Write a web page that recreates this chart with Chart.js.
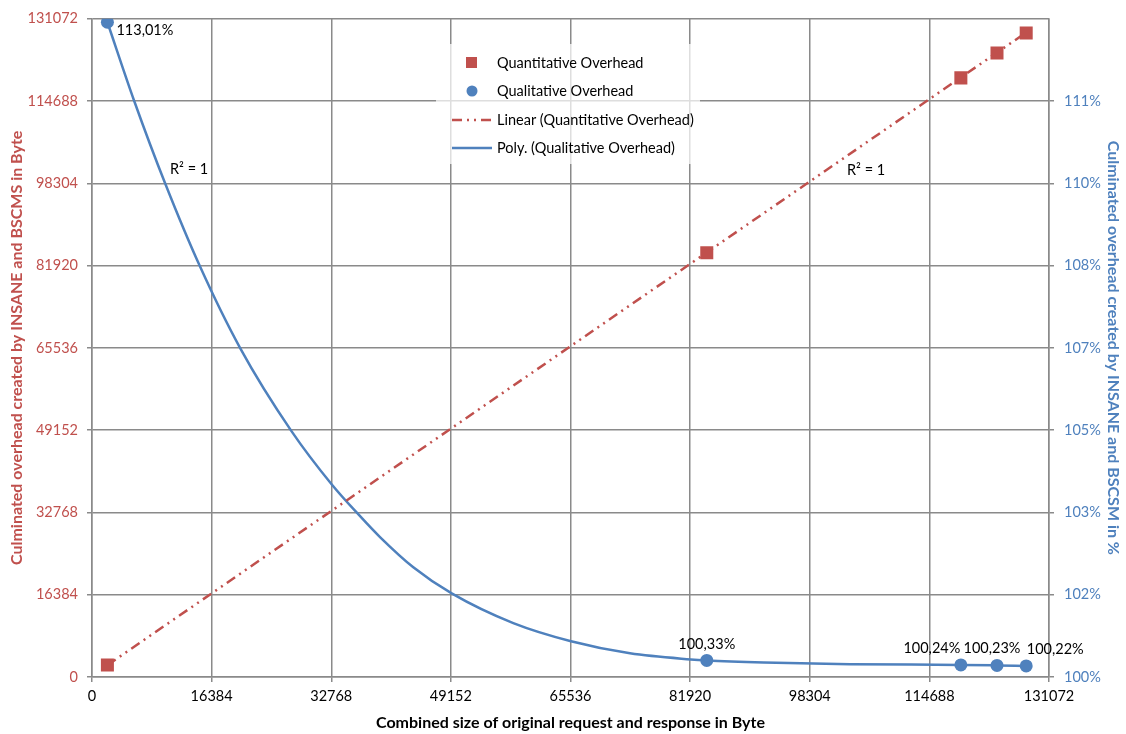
<!DOCTYPE html>
<html>
<head>
<meta charset="utf-8">
<script src="https://cdn.jsdelivr.net/npm/chart.js@4/dist/chart.umd.min.js"></script>
<style>
html,body{margin:0;padding:0;background:#fff}
#wrap{width:1126px;height:734px}
</style>
</head>
<body>
<div id="wrap"><canvas id="chart" width="1126" height="734"></canvas></div>
<script>
const sizes=[2110,84200,119000,123950,127950]
const quantBytes=[2385,84480,119290,124230,128230]
const qualPct=[113.01,100.33,100.24,100.23,100.22]

// trendlines as drawn in the reference
const linearX=[2110,127950]
const linearY=[2360,128330]
const polyX=[2110,5794,10039,14751,20311,27296,32870,36746,39444,44005,49264,57701,65604,73684,81998,84200,92000,103837,119000,123950,127950]
const polyY=[113.01,111.44,109.80,108.17,106.53,104.89,103.82,103.19,102.78,102.18,101.66,101.07,100.71,100.47,100.35,100.33,100.29,100.255,100.24,100.23,100.22]

const xTicks=[0,16384,32768,49152,65536,81920,98304,114688,131072]
const rightTicks=[100,101.635,103.27,104.905,106.54,108.175,109.81,111.445]
const rightTickLabels=["100%","102%","103%","105%","107%","108%","110%","111%"]

const legendLabels=["Quantitative Overhead","Qualitative Overhead","Linear (Quantitative Overhead)","Poly. (Qualitative Overhead)"]

const RED="#C0504D"
const BLUE="#4F81BD"
const GRID="#8a8a8a"
const FONT="Lato"
const FS=14.5

const pts=(xs,ys)=>xs.map((x,i)=>({x:x,y:ys[i]}))

const labelOffsets=[
{dx:9,dy:8,align:"left"},
{dx:0,dy:-16,align:"center"},
{dx:-29,dy:-17,align:"center"},
{dx:-5,dy:-17,align:"center"},
{dx:29,dy:-17,align:"center"}
]

const pctLabels={
id:"pctLabels",
afterDatasetsDraw(c){
const ctx=c.ctx
const sx=c.scales.x, sy=c.scales.y2
ctx.save()
ctx.font=`${FS}px ${FONT}`
ctx.fillStyle="#000"
ctx.textBaseline="middle"
qualPct.forEach((v,i)=>{
const o=labelOffsets[i]
ctx.textAlign=o.align
ctx.fillText(v.toFixed(2).replace(".",",")+"%",sx.getPixelForValue(sizes[i])+o.dx,sy.getPixelForValue(v)+o.dy)
})
// R² labels of the trendlines
ctx.textAlign="left"
ctx.fillText("R² = 1",170,169)
ctx.fillText("R² = 1",847,170)
ctx.restore()
}
}

const legendBox={
id:"legendBox",
afterDraw(c){
const ctx=c.ctx
ctx.save()
ctx.fillStyle="rgba(255,255,255,0.72)"
ctx.fillRect(436,44,264,120)
const rows=[63,91,120,148]
ctx.font=`${FS}px ${FONT}`
ctx.fillStyle="#000"
ctx.textBaseline="middle"
ctx.textAlign="left"
legendLabels.forEach((t,i)=>ctx.fillText(t,497,rows[i]))
ctx.fillStyle=RED
ctx.fillRect(466,57,11,11)
ctx.fillStyle=BLUE
ctx.beginPath()
ctx.arc(472,91,5.5,0,Math.PI*2)
ctx.fill()
ctx.lineWidth=2.5
ctx.strokeStyle=RED
ctx.setLineDash([10,5,2,5,2,5])
ctx.beginPath();ctx.moveTo(452,120);ctx.lineTo(492,120);ctx.stroke()
ctx.setLineDash([])
ctx.strokeStyle=BLUE
ctx.beginPath();ctx.moveTo(452,148);ctx.lineTo(492,148);ctx.stroke()
ctx.restore()
}
}

new Chart(document.getElementById("chart"),{
type:"scatter",
data:{
datasets:[
{
label:legendLabels[0],
data:pts(sizes,quantBytes),
yAxisID:"y",
pointStyle:"rect",
pointRadius:9.2,
backgroundColor:RED,
borderColor:RED,
borderWidth:0,
order:1
},
{
label:legendLabels[1],
data:pts(sizes,qualPct),
yAxisID:"y2",
pointStyle:"circle",
pointRadius:6.5,
backgroundColor:BLUE,
borderColor:BLUE,
borderWidth:0,
order:1
},
{
label:legendLabels[2],
type:"line",
data:pts(linearX,linearY),
yAxisID:"y",
showLine:true,
pointRadius:0,
borderColor:RED,
borderWidth:2.5,
borderDash:[10,5,2,5,2,5],
fill:false,
order:2
},
{
label:legendLabels[3],
type:"line",
data:pts(polyX,polyY),
yAxisID:"y2",
showLine:true,
pointRadius:0,
borderColor:BLUE,
borderWidth:2.5,
cubicInterpolationMode:"monotone",
fill:false,
order:2
}
]
},
options:{
responsive:false,
animation:false,
layout:{padding:{top:18,left:0,right:0,bottom:0}},
plugins:{legend:{display:false},tooltip:{enabled:false}},
scales:{
x:{
type:"linear",
position:"bottom",
min:0,max:131072,
afterBuildTicks:s=>{s.ticks=xTicks.map(v=>({value:v}))},
afterFit:s=>{s.height=57},
ticks:{color:"#000",font:{family:FONT,size:FS},padding:6,maxRotation:0,callback:v=>String(v)},
grid:{color:GRID,lineWidth:1.5,tickLength:5},
border:{color:GRID,width:1.5},
title:{display:true,text:"Combined size of original request and response in Byte",color:"#000",font:{family:FONT,size:16,weight:"bold"},padding:{top:0,bottom:1.5}}
},
y:{
type:"linear",
position:"left",
min:0,max:131072,
afterBuildTicks:s=>{s.ticks=xTicks.map(v=>({value:v}))},
afterFit:s=>{s.width=92},
ticks:{color:RED,font:{family:FONT,size:FS},padding:9,callback:v=>String(v)},
grid:{color:GRID,lineWidth:1.5,tickLength:5},
border:{color:GRID,width:1.5},
title:{display:true,text:"Culminated overhead created by INSANE and BSCMS in Byte",color:RED,font:{family:FONT,size:16,weight:"bold"},padding:{top:7.5,bottom:0}}
},
y2:{
type:"linear",
position:"right",
min:100,max:113.08,
afterBuildTicks:s=>{s.ticks=rightTicks.map(v=>({value:v}))},
afterFit:s=>{s.width=77},
ticks:{color:BLUE,font:{family:FONT,size:FS},padding:10,callback:(v,i)=>rightTickLabels[i]},
grid:{drawOnChartArea:false,color:GRID,lineWidth:1.5,tickLength:5},
border:{color:GRID,width:1.5},
title:{display:true,text:"Culminated overhead created by INSANE and BSCSM in %",color:BLUE,font:{family:FONT,size:16,weight:"bold"},padding:{top:3.5,bottom:0}}
}
}
},
plugins:[pctLabels,legendBox]
})
</script>
</body>
</html>
